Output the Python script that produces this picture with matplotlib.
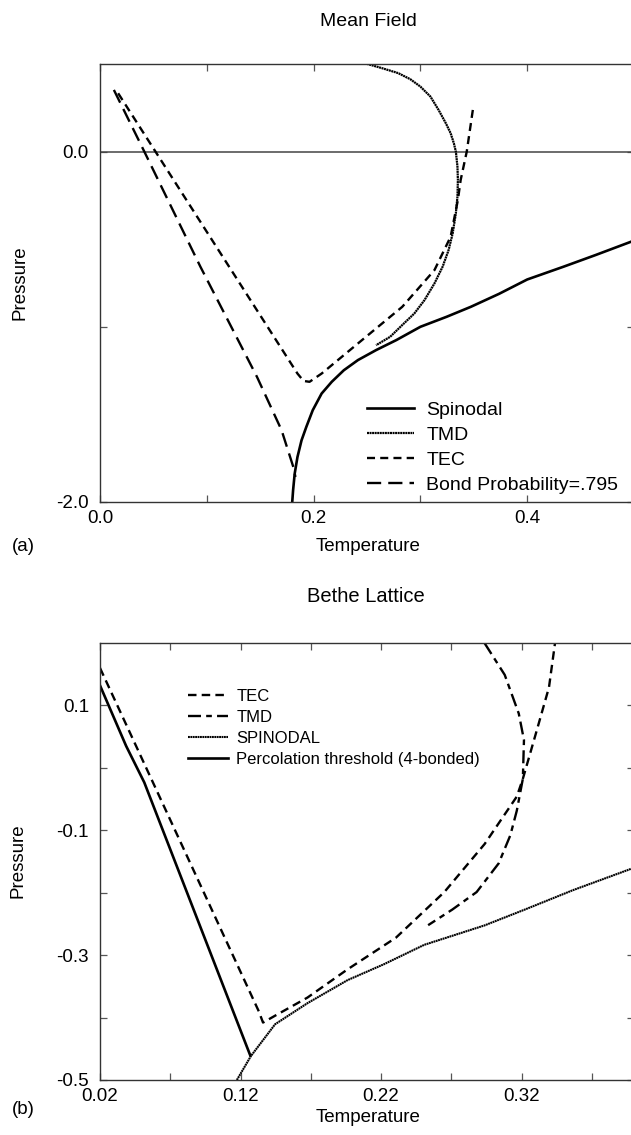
import matplotlib
matplotlib.use("Agg")
import matplotlib.pyplot as plt

plt.rcParams['font.family'] = ['Liberation Sans', 'DejaVu Sans']

# ---- (a) Mean Field ----
mf_spin_T = [0.180, 0.1808, 0.1823, 0.1849, 0.1887, 0.1932, 0.1992, 0.2075, 0.2170, 0.2283, 0.2415,
             0.2585, 0.2774, 0.3000, 0.3245, 0.3472, 0.3736, 0.4000, 0.4340, 0.4642, 0.500]
mf_spin_P = [-2.0, -1.933, -1.838, -1.743, -1.648, -1.571, -1.476, -1.381, -1.314, -1.248, -1.190,
             -1.133, -1.076, -1.000, -0.943, -0.886, -0.812, -0.730, -0.657, -0.590, -0.508]

mf_tmd_T = [0.2498, 0.2642, 0.2792, 0.2906, 0.3000, 0.3094, 0.3170, 0.3238, 0.3283, 0.3313, 0.3332, 0.3347,
            0.3351, 0.3347, 0.3332, 0.3302, 0.3264, 0.3208, 0.3132, 0.3038, 0.2943, 0.2830, 0.2717, 0.2585]
mf_tmd_P = [0.501, 0.476, 0.448, 0.413, 0.371, 0.314, 0.238, 0.162, 0.105, 0.048, 0.0, -0.086,
            -0.162, -0.257, -0.352, -0.467, -0.562, -0.657, -0.752, -0.848, -0.924, -0.990, -1.057, -1.105]

mf_tec_T = [0.017, 0.1849, 0.1906, 0.1962, 0.2075, 0.2453, 0.2830, 0.3132, 0.3283, 0.3351, 0.3377, 0.3434, 0.3491]
mf_tec_P = [0.333, -1.267, -1.309, -1.314, -1.267, -1.076, -0.886, -0.676, -0.486, -0.276, -0.162, 0.0, 0.238]

mf_bond_T = [0.013, 0.0415, 0.094, 0.147, 0.170, 0.181, 0.183]
mf_bond_P = [0.352, 0.0, -0.657, -1.286, -1.590, -1.800, -1.857]

# ---- (b) Bethe Lattice ----
bl_perc_T = [0.020, 0.0386, 0.0515, 0.1269]
bl_perc_P = [0.132, 0.035, -0.0233, -0.4605]

bl_tec_T = [0.020, 0.133, 0.136, 0.1446, 0.1676, 0.196, 0.2306, 0.265, 0.2937, 0.3166, 0.3209, 0.331, 0.3395, 0.3438]
bl_tec_P = [0.160, -0.390, -0.408, -0.397, -0.368, -0.323, -0.272, -0.199, -0.122, -0.046, -0.0176, 0.0615, 0.129, 0.200]

bl_tmd_T = [0.2936, 0.308, 0.318, 0.3217, 0.3209, 0.3166, 0.312, 0.3037, 0.288, 0.2707, 0.2535]
bl_tmd_P = [0.200, 0.149, 0.087, 0.0446, -0.0176, -0.0686, -0.108, -0.153, -0.199, -0.227, -0.252]

bl_spin_T = [0.1174, 0.1274, 0.1446, 0.1676, 0.1962, 0.222, 0.2507, 0.2936, 0.3223, 0.3567, 0.400]
bl_spin_P = [-0.500, -0.4616, -0.4107, -0.377, -0.340, -0.3146, -0.2835, -0.2524, -0.227, -0.1958, -0.160]

W, H = 631, 1135
fig = plt.figure(figsize=(W / 100, H / 100), dpi=100)

def px_axes(left, top, right, bottom):
    return fig.add_axes([left / W, 1 - bottom / H, (right - left) / W, (bottom - top) / H])

def style(ax):
    for s in ax.spines.values():
        s.set_linewidth(1.0)
        s.set_color('#333333')
    ax.tick_params(which='both', direction='in', top=True, right=True,
                   length=5, width=0.9, color='#555555', labelsize=13.5)
    ax.tick_params(axis='x', pad=6)
    ax.tick_params(axis='y', pad=8)

# top panel
ax1 = px_axes(100, 64, 634, 502)
ax1.axhline(0.0, color='#444444', lw=1.1)
ax1.plot(mf_spin_T, mf_spin_P, color='black', lw=1.9, label='Spinodal')
ax1.plot(mf_tmd_T, mf_tmd_P, color='#000000', lw=1.6, ls=(0, (0.9, 0.25)), label='TMD')
ax1.plot(mf_tec_T, mf_tec_P, color='black', lw=1.7, ls=(0, (3.4, 2.2)), label='TEC')
ax1.plot(mf_bond_T, mf_bond_P, color='black', lw=1.7, ls=(0, (6.0, 3.0)), label='Bond Probability=.795')
ax1.set_xlim(0.0, 0.5)
ax1.set_ylim(-2.0, 0.5)
ax1.set_xticks([0.0, 0.1, 0.2, 0.3, 0.4])
ax1.set_xticklabels(['0.0', '', '0.2', '', '0.4'])
ax1.set_yticks([-2.0, -1.0, 0.0])
ax1.set_yticklabels(['-2.0', '', '0.0'])
style(ax1)
ax1.legend(loc='upper left', bbox_to_anchor=(0.5, 0.23), frameon=False, fontsize=14,
           handlelength=2.4, handletextpad=0.65, labelspacing=0.38, borderpad=0, borderaxespad=0)

fig.text(368 / W, 1 - 21 / H, 'Mean Field', ha='center', va='center', fontsize=14)
fig.text(368 / W, 1 - 546 / H, 'Temperature', ha='center', va='center', fontsize=13.5)
fig.text(20 / W, 1 - 283 / H, 'Pressure', ha='center', va='center', rotation=90, fontsize=13.5)
fig.text(12 / W, 1 - 546 / H, '(a)', ha='left', va='center', fontsize=13.5)

# bottom panel
ax2 = px_axes(100, 643, 634, 1080)
ax2.plot(bl_tec_T, bl_tec_P, color='black', lw=1.7, ls=(0, (3.6, 2.2)), label='TEC')
ax2.plot(bl_tmd_T, bl_tmd_P, color='black', lw=1.7, ls=(0, (5.5, 2.2, 2.4, 2.2)), label='TMD')
ax2.plot(bl_spin_T, bl_spin_P, color='#000000', lw=1.5, ls=(0, (0.9, 0.25)), label='SPINODAL')
ax2.plot(bl_perc_T, bl_perc_P, color='black', lw=1.9, label='Percolation threshold (4-bonded)')
ax2.set_xlim(0.02, 0.40)
ax2.set_ylim(-0.5, 0.2)
ax2.set_xticks([0.02, 0.07, 0.12, 0.17, 0.22, 0.27, 0.32, 0.37])
ax2.set_xticklabels(['0.02', '', '0.12', '', '0.22', '', '0.32', ''])
ax2.set_yticks([-0.5, -0.4, -0.3, -0.2, -0.1, 0.0, 0.1])
ax2.set_yticklabels(['-0.5', '', '-0.3', '', '-0.1', '', '0.1'])
style(ax2)
ax2.legend(loc='upper left', bbox_to_anchor=(0.165, 0.895), frameon=False, fontsize=12,
           handlelength=2.4, handletextpad=0.5, labelspacing=0.36, borderpad=0, borderaxespad=0)

fig.text(366 / W, 1 - 596 / H, 'Bethe Lattice', ha='center', va='center', fontsize=14.5)
fig.text(368 / W, 1 - 1118 / H, 'Temperature', ha='center', va='center', fontsize=13.5)
fig.text(18 / W, 1 - 861 / H, 'Pressure', ha='center', va='center', rotation=90, fontsize=13.5)
fig.text(12 / W, 1 - 1110 / H, '(b)', ha='left', va='center', fontsize=13.5)

fig.savefig('out.png', dpi=100)
